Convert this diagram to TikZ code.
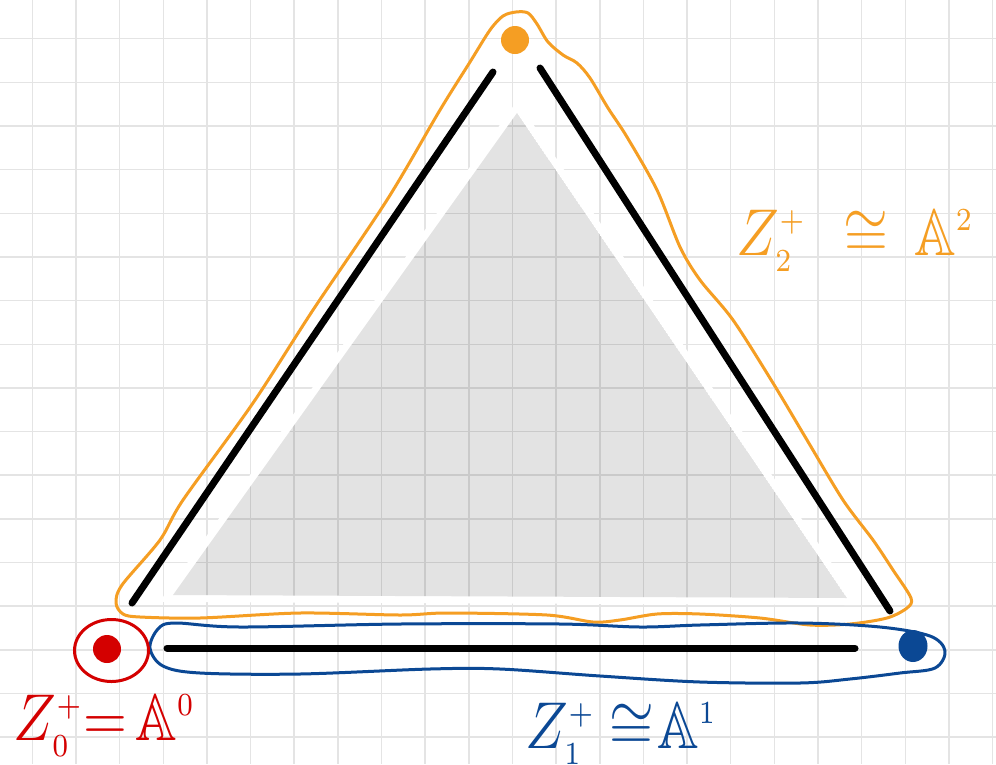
\documentclass[tikz,border=0pt]{standalone}
\usepackage{amssymb}
\usetikzlibrary{shapes.geometric}
\definecolor{orangeC}{RGB}{245,158,35}
\definecolor{redC}{RGB}{212,0,0}
\definecolor{blueC}{RGB}{11,72,148}
\definecolor{gridC}{RGB}{228,228,228}
\tikzset{
  gridline/.style={draw=gridC, line width=1.5},
  edgeline/.style={draw=black, line width=7, line cap=round},
  hand/.style={line width=3, line join=round},
  vdot/.style={circle, inner sep=0, minimum size=28},
  lbl/.style={inner sep=0, font=\Large, xscale=4.0, yscale=4.6},
}
\newcommand{\ssc}[1]{{\scriptscriptstyle #1}}
\begin{document}
\begin{tikzpicture}[x=1pt,y=-1pt]
\useasboundingbox (0,0) rectangle (996,764);
\clip (0,0) rectangle (996,764);
\fill[white] (0,0) rectangle (996,764);
% grid
\foreach \i in {0,...,22} \draw[gridline] ({32.3+43.65*\i},0) -- ({32.3+43.65*\i},764);
\foreach \j in {0,...,16} \draw[gridline] (0,{38.7+43.65*\j}) -- (996,{38.7+43.65*\j});
% shaded 2-simplex
\coordinate (g1) at (173,595);
\coordinate (g2) at (517,113);
\coordinate (g3) at (847,598);
\filldraw[white, line width=14, line join=miter] (g1) -- (g2) -- (g3) -- cycle;
\begin{scope}
  \clip (g1) -- (g2) -- (g3) -- cycle;
  \foreach \i in {0,...,22} \draw[gridline] ({32.3+43.65*\i},0) -- ({32.3+43.65*\i},764);
  \foreach \j in {0,...,16} \draw[gridline] (0,{38.7+43.65*\j}) -- (996,{38.7+43.65*\j});
  \fill[black, opacity=0.11] (g1) -- (g2) -- (g3) -- cycle;
\end{scope}
% orange outline (Z_2^+)
\draw[hand, orangeC] plot[smooth cycle, tension=0.5] coordinates {
 (503,16) (516,12) (528,13) (537,24) (548,42) (563,55) (577,63) (590,78)
 (608,108) (627,137) (657,190) (680,247) (700,280) (733,320) (773,383)
 (807,440) (843,500) (873,540) (893,570) (911,598) (907,608) (887,618)
 (850,624) (810,625) (760,618) (700,614) (657,614) (620,620) (593,622)
 (547,615) (447,613) (400,615) (300,613) (200,618) (140,617) (123,614)
 (116,603) (122,585) (160,540) (183,500) (253,403) (313,310) (387,200)
 (440,110) (470,62) (490,30)};
% blue outline (Z_1^+)
\draw[hand, blueC] plot[smooth cycle, tension=0.55] coordinates {
 (175,623) (240,627) (400,624) (560,624) (640,627) (700,625) (800,623)
 (880,627) (930,636) (945,651) (935,668) (900,673) (850,679) (800,683)
 (700,682) (600,676) (500,669) (430,669) (300,674) (200,673) (163,666)
 (150,648) (158,629)};
% red ring (Z_0^+)
\node[ellipse, draw=redC, line width=3, inner sep=0, minimum width=74, minimum height=62] (ring0) at (111.5,650.5) {};
% vertices
\node[vdot, fill=redC] (v0) at (107,649) {};
\node[vdot, fill=blueC, minimum width=29, minimum height=32, ellipse] (v1) at (913,646) {};
\node[vdot, fill=orangeC] (v2) at (515,40) {};
% edges
\coordinate (e01a) at (167,648);
\coordinate (e01b) at (855,648);
\coordinate (e02a) at (132,603);
\coordinate (e02b) at (493,72);
\coordinate (e12a) at (890,611);
\coordinate (e12b) at (540,68);
\draw[edgeline] (e01a) -- (e01b);
\draw[edgeline] (e02a) -- (e02b);
\draw[edgeline] (e12a) -- (e12b);
% labels
\node[lbl, text=redC, anchor=base west] (t0) at (13,740) {$Z^{\ssc{+}}_{\ssc{0}}{=}\hspace{0.15em}\mathbb{A}^{\ssc{0}}$};
\node[lbl, text=blueC, anchor=base west] (t1) at (525,748) {$Z^{\ssc{+}}_{\ssc{1}}\hspace{0.25em}{\cong}\hspace{0.05em}\mathbb{A}^{\ssc{1}}$};
\node[lbl, text=orangeC, anchor=base west] (t2) at (736,255) {$Z^{\ssc{+}}_{\ssc{2}}\hspace{0.65em}{\cong}\hspace{0.45em}\mathbb{A}^{\ssc{2}}$};
\end{tikzpicture}
\end{document}
